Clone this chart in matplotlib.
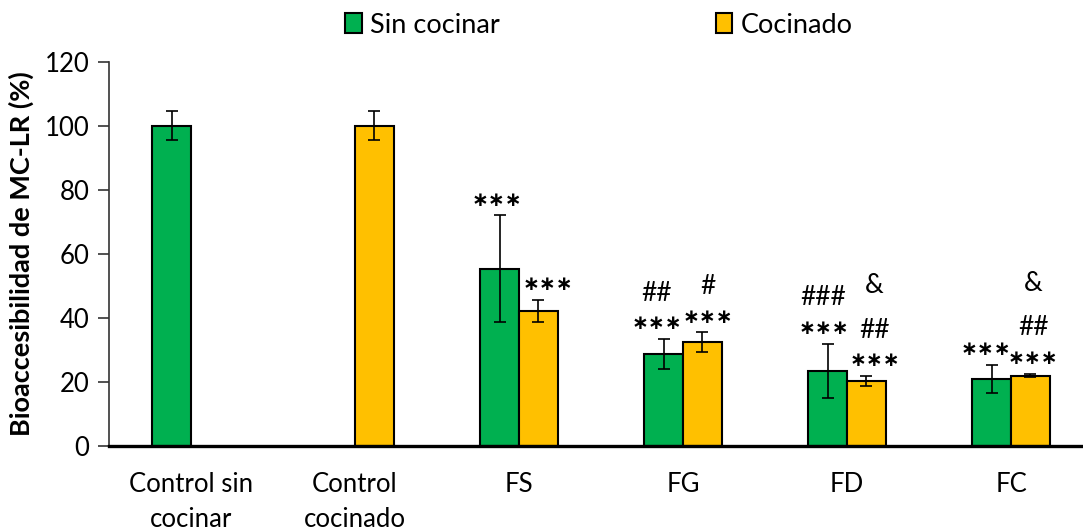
import numpy as np
import matplotlib
matplotlib.use("Agg")
import matplotlib.pyplot as plt
from matplotlib.patches import Patch

plt.rcParams['font.family'] = ['Lato', 'DejaVu Sans']

categories = ["Control sin\ncocinar", "Control\ncocinado", "FS", "FG", "FD", "FC"]
series_names = ["Sin cocinar", "Cocinado"]

raw_mean = [100.0, np.nan, 55.4, 28.7, 23.5, 21.0]
raw_err = [4.6, np.nan, 16.6, 4.75, 8.5, 4.3]
cooked_mean = [np.nan, 100.0, 42.2, 32.5, 20.3, 22.0]
cooked_err = [np.nan, 4.6, 3.5, 3.05, 1.6, 0.6]

# significance marks per bar, bottom line first
raw_marks = [[], [], ["***"], ["***", "##"], ["***", "###"], ["***"]]
cooked_marks = [[], [], ["***"], ["***", "#"], ["***", "##", "&"], ["***", "##", "&"]]

# horizontal nudge of each bar's marks, in points
raw_nudge = [0, 0, -2, -5, -3, -4]
cooked_nudge = [0, 0, 7, 4, 6, 2]

colors = ["#00B050", "#FFC000"]

fig = plt.figure(figsize=(10.83, 5.32), dpi=100)
ax = fig.add_axes([109 / 1083, 1 - 446 / 532, (1093 - 109) / 1083, (446 - 61.7) / 532])

x = np.arange(len(categories))
w = 0.236

err_kw = dict(ecolor="black", elinewidth=1.2, capsize=4.3, capthick=1.2)
ax.bar(x - w / 2, raw_mean, w, color=colors[0], edgecolor="black", linewidth=1.5,
       yerr=raw_err, error_kw=err_kw, zorder=2)
ax.bar(x + w / 2, cooked_mean, w, color=colors[1], edgecolor="black", linewidth=1.5,
       yerr=cooked_err, error_kw=err_kw, zorder=2)


def draw_marks(xpos, means, errs, marks, nudges):
    for xi, m, e, labels, dx in zip(xpos, means, errs, marks, nudges):
        if not labels:
            continue
        y = m + e + 5.5
        for lab in labels:
            if lab == "&":
                y += 5.0
            if lab.startswith("*"):
                ax.annotate("\u2217\u2217\u2217", (xi, y - 0.8), xytext=(dx, 0),
                            textcoords="offset points", ha="center", va="center",
                            fontsize=14.5, fontweight="bold", family=["DejaVu Sans"],
                            color="black")
            else:
                ax.annotate(lab, (xi, y), xytext=(dx, 0), textcoords="offset points",
                            ha="center", va="center", fontsize=19, color="black")
            y += 8.8


draw_marks(x - w / 2, raw_mean, raw_err, raw_marks, raw_nudge)
draw_marks(x + w / 2, cooked_mean, cooked_err, cooked_marks, cooked_nudge)

ax.set_xlim(-0.5, len(categories) - 0.5)
ax.set_ylim(0, 120)
ax.set_yticks(np.arange(0, 121, 20))
ax.set_xticks(x)
ax.set_xticklabels(categories, fontsize=18.5, linespacing=1.5)
ax.tick_params(axis="x", length=0, pad=19)
ax.tick_params(axis="y", length=8, width=1.2, labelsize=18.5, pad=6, color="#333333")

for s in ["top", "right"]:
    ax.spines[s].set_visible(False)
ax.spines["left"].set_linewidth(1.2)
ax.spines["left"].set_color("#333333")
ax.spines["bottom"].set_linewidth(2.4)
ax.spines["bottom"].set_zorder(3)

ax.set_ylabel("Bioaccesibilidad de MC-LR (%)", fontsize=19.5, fontweight="bold", labelpad=8)

handles = [Patch(facecolor=colors[0], edgecolor="black", linewidth=1.5),
           Patch(facecolor=colors[1], edgecolor="black", linewidth=1.5)]
fig.legend(handles, series_names, loc="center", bbox_to_anchor=(599 / 1083, 1 - 25 / 532),
           ncol=2, frameon=False, fontsize=19.5, handlelength=0.6, handleheight=0.8,
           handletextpad=0.3, columnspacing=8.0)

fig.savefig("out.png", dpi=100)
